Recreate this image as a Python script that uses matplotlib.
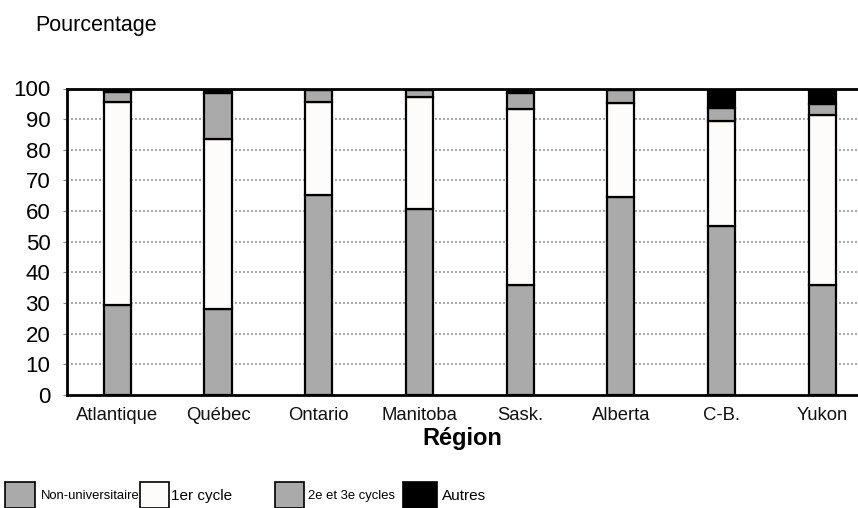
import matplotlib
matplotlib.use("Agg")
import matplotlib.pyplot as plt
from matplotlib.patches import Rectangle
import numpy as np

regions = ["Atlantique", "Québec", "Ontario", "Manitoba", "Sask.", "Alberta", "C-B.", "Yukon"]
non_univ = [29.5, 28.0, 65.3, 60.6, 36.0, 64.5, 55.3, 36.0]
premier = [66.0, 55.5, 30.2, 36.6, 57.2, 30.8, 34.1, 55.4]
deuxieme = [3.5, 15.0, 4.0, 2.3, 5.3, 4.2, 4.2, 3.7]
autres = [1.0, 1.5, 0.5, 0.5, 1.5, 0.5, 6.4, 4.9]
series_names = ["Non-universitaire", "1er cycle", "2e et 3e cycles", "Autres"]
colors = ["#aaaaaa", "#fdfcfb", "#aaaaaa", "#000000"]
yticks = [0, 10, 20, 30, 40, 50, 60, 70, 80, 90, 100]

plt.rcParams['font.family'] = ['Liberation Sans', 'DejaVu Sans']

fig = plt.figure(figsize=(8.58, 5.08), dpi=100)
ax = fig.add_axes([67/858, 1-395/508, 1-67/858, (395-88.5)/508])

x = np.arange(len(regions))
bottom = np.zeros(len(regions))
for vals, col in zip([non_univ, premier, deuxieme, autres], colors):
    ax.bar(x, vals, width=0.27, bottom=bottom, color=col, edgecolor="black",
           linewidth=1.6, zorder=3)
    bottom += np.array(vals)

ax.set_xlim(-0.5, -0.5 + (858-67)/100.7)
ax.set_ylim(0, 100)
ax.set_yticks(yticks)
ax.set_yticklabels([str(v) for v in yticks], fontsize=16)
ax.set_xticks(x)
ax.set_xticklabels(regions, fontsize=13.3, color='#111111')
ax.tick_params(axis='x', length=0, pad=9)
ax.tick_params(axis='y', length=3, color='#888888', pad=9)
for yv in yticks[1:-1]:
    ax.axhline(yv, color='#999999', linestyle=(0, (1.2, 1.2)), linewidth=1.2, zorder=1)
ax.spines['right'].set_visible(False)
for s in ['left', 'top', 'bottom']:
    ax.spines[s].set_linewidth(2)
ax.set_xlabel("Région", fontsize=17, fontweight='bold', labelpad=2)

fig.text(35/858, 1-26/508, "Pourcentage", fontsize=15.5, va='center', ha='left')

legend_x = [5, 140, 275, 403]
legend_w = [30, 29, 29, 34]
text_x = [41, 171, 308, 442]
legend_fs = [9.4, 11, 9.4, 11]
for lx, lw, tx, name, col, fs in zip(legend_x, legend_w, text_x, series_names, colors, legend_fs):
    r = Rectangle((lx/858, 0), lw/858, (508-482)/508, transform=fig.transFigure,
                  facecolor=col, edgecolor='black', linewidth=1.2, clip_on=False)
    fig.add_artist(r)
    fig.text(tx/858, 1-496/508, name, fontsize=fs, va='center', ha='left')

fig.savefig("out.png", dpi=100)
